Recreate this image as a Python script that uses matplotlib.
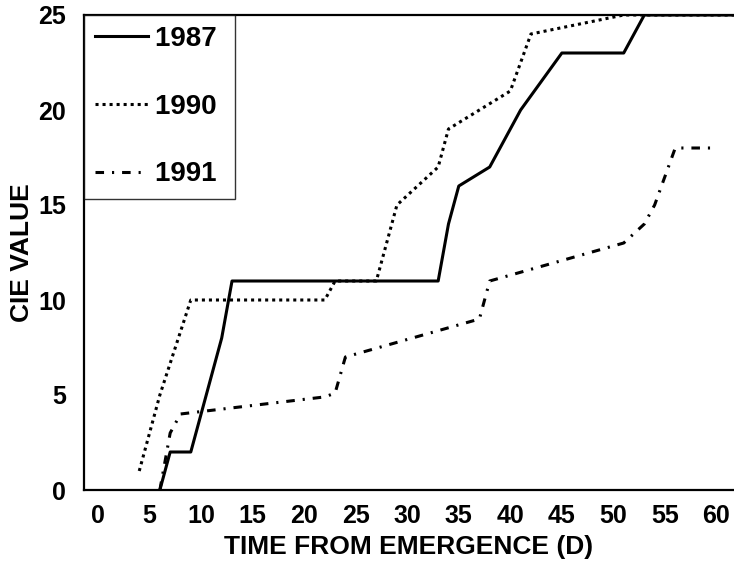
import numpy as np
import matplotlib.pyplot as plt

plt.rcParams['font.family'] = ['Liberation Sans', 'DejaVu Sans']
plt.rcParams['font.weight'] = 'bold'

# 1987 series
x1987 = [6, 7, 9, 12, 13, 33, 34, 35, 38, 41, 45, 51, 53, 62]
y1987 = [0, 2, 2, 8, 11, 11, 14, 16, 17, 20, 23, 23, 25, 25]
# 1990 series
x1990 = [4, 6, 9, 22, 23, 27, 29, 33, 34, 40, 42, 51, 62]
y1990 = [1, 5, 10, 10, 11, 11, 15, 17, 19, 21, 24, 25, 25]
# 1991 series
x1991 = [6, 7, 8, 22, 23, 24, 37, 38, 51, 52, 53, 54, 55, 56, 60]
y1991 = [0, 3, 4, 4.9, 5.1, 7, 9, 11, 13, 13.5, 14, 15, 16.5, 18, 18]

xticks = list(range(0, 61, 5))
yticks = list(range(0, 26, 5))

fig = plt.figure(figsize=(7.34, 5.66), dpi=100)
ax = fig.add_axes([84/734, 76/566, 650/734, 475/566])

ax.plot(x1987, y1987, color='black', lw=2.2, ls='-', label='1987 ')
ax.plot(x1990, y1990, color='black', lw=2.2, ls=(0, (1, 1.3)), label='1990 ')
ax.plot(x1991, y1991, color='black', lw=2.2, ls=(0, (2.8, 2.6, 0.7, 2.6)), label='1991 ')

ax.set_xlim(-1.36, 61.7)
ax.set_ylim(0, 25)
ax.set_xticks(xticks)
ax.set_yticks(yticks)
ax.tick_params(axis='both', length=0, labelsize=18)
ax.tick_params(axis='x', pad=10)
ax.tick_params(axis='y', pad=13)

for s in ['left', 'bottom', 'top']:
    ax.spines[s].set_linewidth(1.6)
ax.spines['right'].set_visible(False)

ax.set_xlabel('TIME FROM EMERGENCE (D)', fontsize=19, fontweight='bold', labelpad=5)
ax.set_ylabel('CIE VALUE', fontsize=19, fontweight='bold', labelpad=3)

leg = ax.legend(loc='upper left', fontsize=20, frameon=True, fancybox=False,
                edgecolor='black', borderaxespad=0, handlelength=1.9,
                handletextpad=0.25, labelspacing=1.5, borderpad=0.4)
leg.get_frame().set_linewidth(1.0)
for t in leg.get_texts():
    t.set_fontweight('bold')

fig.savefig('out.png', dpi=100)
